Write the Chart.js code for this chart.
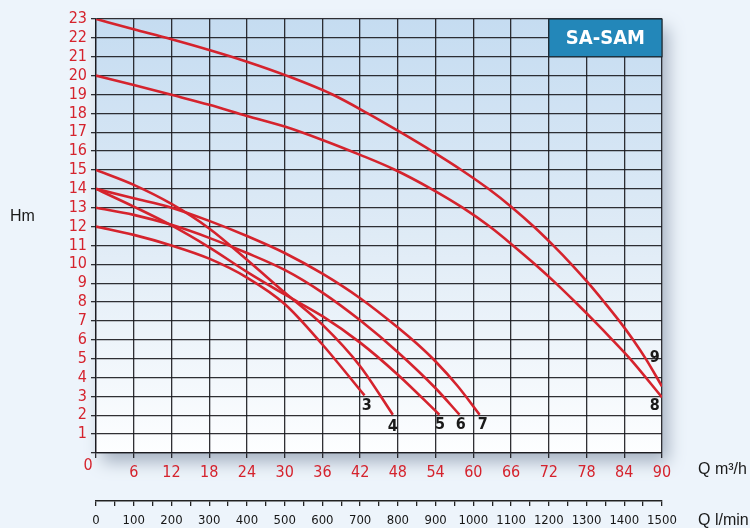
<!DOCTYPE html>
<html>
<head>
<meta charset="utf-8">
<script src="https://cdn.jsdelivr.net/npm/chart.js@4"></script>
<style>
  html, body { margin: 0; padding: 0; background: #edf4fb; }
  canvas { display: block; }
</style>
</head>
<body>
<canvas id="pump-chart" width="750" height="528"></canvas>
<script>
// curves: Q in m3/h, H in m
const flow3 = [0, 6, 12, 18, 24, 30, 36, 42.7];
const head3 = [12, 11.56, 11.0, 10.3, 9.3, 7.9, 5.75, 3.05];
const flow4 = [0, 6, 12, 18, 24, 30, 36, 42, 47.2];
const head4 = [15, 14.21, 13.2, 11.9, 10.24, 8.5, 6.8, 4.6, 2.03];
const flow5 = [0, 6, 12, 18, 24, 30, 36, 42, 48, 54.6];
const head5 = [14, 13.06, 12.06, 10.9, 9.6, 8.4, 7.25, 5.85, 4.15, 2.03];
const flow6 = [0, 6, 12, 18, 24, 30, 36, 42, 48, 54, 57.8];
const head6 = [13, 12.62, 12.09, 11.4, 10.6, 9.7, 8.5, 7.03, 5.34, 3.43, 2.03];
const flow7 = [0, 6, 12, 18, 24, 30, 36, 42, 48, 51, 54, 57.5, 61];
const head7 = [14, 13.5, 13.0, 12.3, 11.5, 10.6, 9.5, 8.2, 6.65, 5.8, 4.85, 3.55, 2.03];
const flow8 = [0, 6, 12, 18, 24, 30, 36, 42, 47.6, 53.3, 58.3, 62.6, 66.3, 69.8, 73.1, 76.2, 79.2, 82.1, 84.9, 90];
const head8 = [20, 19.5, 18.98, 18.45, 17.86, 17.3, 16.59, 15.8, 15, 14, 13, 12, 11, 10, 9, 8, 7, 6, 5, 2.95];
const flow9 = [0, 6, 12, 18, 24, 30.3, 37.6, 43.2, 48.4, 53.4, 58.1, 62.4, 66.2, 69.6, 72.7, 75.6, 78.3, 80.8, 83.2, 85.4, 87.4, 90];
const head9 = [23, 22.46, 21.93, 21.36, 20.74, 20, 19, 18, 17, 16, 15, 14, 13, 12, 11, 10, 9, 8, 7, 6, 5, 3.53];

// curve numbers and where they sit (chart units)
const curveNames = ["3", "4", "5", "6", "7", "8", "9"];
const nameQ = [43.05, 47.2, 54.7, 58.0, 61.5, 88.85, 88.85];
const nameH = [2.5, 1.41, 1.5, 1.5, 1.5, 2.5, 5.03];

// axes
const qMax = 90, qStep = 6;
const hMax = 23, hStep = 1;
const lpmMax = 1500, lpmStep = 50, lpmLabelEvery = 100;
const modelName = "SA-SAM";

const RED = "#d5232d";
const NARROW = "'DejaVu Sans Condensed', 'Liberation Sans Narrow', sans-serif";
const GRID = "rgba(25,25,30,0.9)";

const curves = [
    [flow3, head3], [flow4, head4], [flow5, head5], [flow6, head6],
    [flow7, head7], [flow8, head8], [flow9, head9],
];

const decor = {
    id: "decor",
    beforeDraw(chart) {
        const {ctx, chartArea: a} = chart;
        ctx.save();
        ctx.fillStyle = "#edf4fb";
        ctx.fillRect(0, 0, chart.width, chart.height);
        // plot panel with soft drop shadow
        ctx.shadowColor = "rgba(50,70,100,0.38)";
        ctx.shadowBlur = 16;
        ctx.shadowOffsetX = 6;
        ctx.shadowOffsetY = 9;
        const g = ctx.createLinearGradient(0, a.top, 0, a.bottom);
        g.addColorStop(0, "#c5dcf1");
        g.addColorStop(0.5, "#dfebf6");
        g.addColorStop(1, "#fdfeff");
        ctx.fillStyle = g;
        ctx.fillRect(a.left, a.top, a.width, a.height);
        ctx.restore();
    },
    afterDraw(chart) {
        const {ctx} = chart;
        const xs = chart.scales.x, ys = chart.scales.y;
        ctx.save();

        // model box in the top right cell block
        const bx = xs.getPixelForValue(72), by = ys.getPixelForValue(hMax);
        const bw = xs.getPixelForValue(qMax) - bx, bh = ys.getPixelForValue(21) - by;
        ctx.fillStyle = "#2387b9";
        ctx.fillRect(bx, by, bw, bh);
        ctx.strokeStyle = "#1c2a33";
        ctx.lineWidth = 1.2;
        ctx.strokeRect(bx, by, bw, bh);
        ctx.fillStyle = "#ffffff";
        ctx.font = "bold 20px " + NARROW;
        ctx.textAlign = "center";
        ctx.textBaseline = "middle";
        ctx.fillText(modelName, bx + bw / 2, by + bh / 2 + 1);

        // curve numbers
        ctx.fillStyle = "#1a1a1a";
        ctx.font = "bold 16px " + NARROW;
        curveNames.forEach((n, i) => {
            ctx.fillText(n, xs.getPixelForValue(nameQ[i]), ys.getPixelForValue(nameH[i]));
        });

        // origin zero
        ctx.fillStyle = RED;
        ctx.font = "16px " + NARROW;
        ctx.fillText("0", xs.left - 8, ys.bottom + 13);

        // axis titles
        ctx.fillStyle = "#1a1a1a";
        ctx.font = "16px 'Liberation Sans', Arial, sans-serif";
        ctx.textAlign = "left";
        ctx.fillText("Hm", 10, 217);
        ctx.fillText("Q m\u00b3/h", 698, 470);
        ctx.fillText("Q l/min", 698, 521);
        ctx.restore();
    }
};

function drawChart() {
    const canvas = document.querySelector("#pump-chart");
    new Chart(canvas, {
        type: "line",
        data: {
            datasets: curves.map(([q, h], i) => ({
                label: curveNames[i],
                data: q.map((v, k) => ({x: v, y: h[k]})),
                borderColor: RED,
                borderWidth: 2.6,
                pointRadius: 0,
                fill: false,
                cubicInterpolationMode: "monotone",
            })),
        },
        options: {
            responsive: false,
            animation: false,
            devicePixelRatio: 1,
            layout: {padding: {top: 19, right: 88, left: 0, bottom: 0}},
            plugins: {legend: {display: false}, tooltip: {enabled: false}},
            scales: {
                x: {
                    type: "linear", position: "bottom", min: 0, max: qMax,
                    afterFit: s => { s.height = 48; },
                    ticks: {
                        stepSize: qStep, autoSkip: false, maxRotation: 0, color: RED, padding: 5,
                        font: {family: NARROW, size: 16},
                        callback: v => v === 0 ? "" : String(v),
                    },
                    grid: {color: GRID, lineWidth: 1.3, tickLength: 5, tickColor: GRID},
                    border: {color: GRID, width: 1.3},
                },
                x2: {
                    type: "linear", position: "bottom", min: 0, max: lpmMax,
                    afterFit: s => { s.height = 27; },
                    ticks: {
                        stepSize: lpmStep, autoSkip: false, maxRotation: 0, color: "#161616", padding: 7,
                        font: {family: NARROW, size: 13},
                        callback: v => v % lpmLabelEvery === 0 ? String(v) : "",
                    },
                    grid: {drawOnChartArea: false, color: "#222", lineWidth: 1.3, tickLength: 5},
                    border: {color: "#222", width: 1.5},
                },
                y: {
                    min: 0, max: hMax,
                    afterFit: s => { s.width = 96; },
                    ticks: {
                        stepSize: hStep, autoSkip: false, color: RED, padding: 4,
                        font: {family: NARROW, size: 16},
                        callback: v => v === 0 ? "" : String(v),
                    },
                    grid: {color: GRID, lineWidth: 1.3, tickLength: 5, tickColor: GRID},
                    border: {color: GRID, width: 1.3},
                },
            },
        },
        plugins: [decor],
    });
}

drawChart();
</script>
</body>
</html>
